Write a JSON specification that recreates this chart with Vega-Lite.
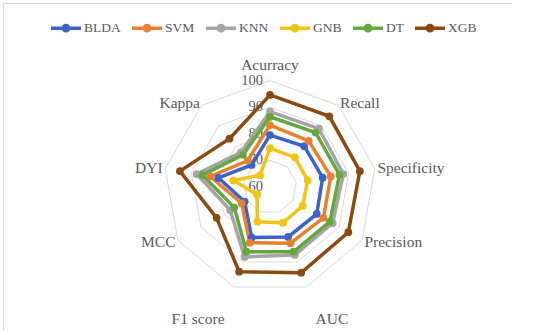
{
  "$schema": "https://vega.github.io/schema/vega-lite/v6.json",
  "width": 509,
  "height": 328,
  "autosize": "none",
  "padding": {"left": 3, "top": 3, "right": 0, "bottom": 0},
  "config": {"view": {"stroke": "#d9d9d9", "strokeWidth": 1}, "font": "Liberation Serif"},
  "datasets": {
    "scores": [
      {"model": "BLDA", "metric": "Acurracy", "i": 0, "value": 79.5},
      {"model": "BLDA", "metric": "Recall", "i": 1, "value": 80},
      {"model": "BLDA", "metric": "Specificity", "i": 2, "value": 80.1},
      {"model": "BLDA", "metric": "Precision", "i": 3, "value": 80.3},
      {"model": "BLDA", "metric": "AUC", "i": 4, "value": 80},
      {"model": "BLDA", "metric": "F1 score", "i": 5, "value": 80.2},
      {"model": "BLDA", "metric": "MCC", "i": 6, "value": 71},
      {"model": "BLDA", "metric": "DYI", "i": 7, "value": 79.7},
      {"model": "BLDA", "metric": "Kappa", "i": 8, "value": 70.8},
      {"model": "SVM", "metric": "Acurracy", "i": 0, "value": 83.3},
      {"model": "SVM", "metric": "Recall", "i": 1, "value": 82.6},
      {"model": "SVM", "metric": "Specificity", "i": 2, "value": 83.2},
      {"model": "SVM", "metric": "Precision", "i": 3, "value": 83.2},
      {"model": "SVM", "metric": "AUC", "i": 4, "value": 82.5},
      {"model": "SVM", "metric": "F1 score", "i": 5, "value": 82.3},
      {"model": "SVM", "metric": "MCC", "i": 6, "value": 72.3},
      {"model": "SVM", "metric": "DYI", "i": 7, "value": 82.8},
      {"model": "SVM", "metric": "Kappa", "i": 8, "value": 73},
      {"model": "KNN", "metric": "Acurracy", "i": 0, "value": 88.3},
      {"model": "KNN", "metric": "Recall", "i": 1, "value": 88.6},
      {"model": "KNN", "metric": "Specificity", "i": 2, "value": 88},
      {"model": "KNN", "metric": "Precision", "i": 3, "value": 87.2},
      {"model": "KNN", "metric": "AUC", "i": 4, "value": 87.2},
      {"model": "KNN", "metric": "F1 score", "i": 5, "value": 88},
      {"model": "KNN", "metric": "MCC", "i": 6, "value": 77.3},
      {"model": "KNN", "metric": "DYI", "i": 7, "value": 88},
      {"model": "KNN", "metric": "Kappa", "i": 8, "value": 77},
      {"model": "GNB", "metric": "Acurracy", "i": 0, "value": 74.6},
      {"model": "GNB", "metric": "Recall", "i": 1, "value": 74.5},
      {"model": "GNB", "metric": "Specificity", "i": 2, "value": 74.4},
      {"model": "GNB", "metric": "Precision", "i": 3, "value": 74.2},
      {"model": "GNB", "metric": "AUC", "i": 4, "value": 74.3},
      {"model": "GNB", "metric": "F1 score", "i": 5, "value": 73.9},
      {"model": "GNB", "metric": "MCC", "i": 6, "value": 65.6},
      {"model": "GNB", "metric": "DYI", "i": 7, "value": 74},
      {"model": "GNB", "metric": "Kappa", "i": 8, "value": 65.8},
      {"model": "DT", "metric": "Acurracy", "i": 0, "value": 86.4},
      {"model": "DT", "metric": "Recall", "i": 1, "value": 86.7},
      {"model": "DT", "metric": "Specificity", "i": 2, "value": 86.5},
      {"model": "DT", "metric": "Precision", "i": 3, "value": 86},
      {"model": "DT", "metric": "AUC", "i": 4, "value": 85.9},
      {"model": "DT", "metric": "F1 score", "i": 5, "value": 85.9},
      {"model": "DT", "metric": "MCC", "i": 6, "value": 75.5},
      {"model": "DT", "metric": "DYI", "i": 7, "value": 85.8},
      {"model": "DT", "metric": "Kappa", "i": 8, "value": 75.8},
      {"model": "XGB", "metric": "Acurracy", "i": 0, "value": 94.6},
      {"model": "XGB", "metric": "Recall", "i": 1, "value": 94.7},
      {"model": "XGB", "metric": "Specificity", "i": 2, "value": 94.3},
      {"model": "XGB", "metric": "Precision", "i": 3, "value": 94},
      {"model": "XGB", "metric": "AUC", "i": 4, "value": 94.3},
      {"model": "XGB", "metric": "F1 score", "i": 5, "value": 93.9},
      {"model": "XGB", "metric": "MCC", "i": 6, "value": 83.2},
      {"model": "XGB", "metric": "DYI", "i": 7, "value": 94.4},
      {"model": "XGB", "metric": "Kappa", "i": 8, "value": 83.7}
    ],
    "grid": [
      {"level": 70, "i": [0, 1, 2, 3, 4, 5, 6, 7, 8]},
      {"level": 80, "i": [0, 1, 2, 3, 4, 5, 6, 7, 8]},
      {"level": 90, "i": [0, 1, 2, 3, 4, 5, 6, 7, 8]},
      {"level": 100, "i": [0, 1, 2, 3, 4, 5, 6, 7, 8]}
    ],
    "metrics": [
      {"metric": "Acurracy", "i": 0},
      {"metric": "Recall", "i": 1},
      {"metric": "Specificity", "i": 2},
      {"metric": "Precision", "i": 3},
      {"metric": "AUC", "i": 4},
      {"metric": "F1 score", "i": 5},
      {"metric": "MCC", "i": 6},
      {"metric": "DYI", "i": 7},
      {"metric": "Kappa", "i": 8}
    ],
    "ticks": [{"v": 60}, {"v": 70}, {"v": 80}, {"v": 90}, {"v": 100}]
  },
  "layer": [
    {
      "data": {"name": "grid"},
      "transform": [
        {"flatten": ["i"]},
        {"calculate": "datum.i * 2 * PI / 9", "as": "a"},
        {"calculate": "(datum.level - 60) * sin(datum.a)", "as": "x"},
        {"calculate": "(datum.level - 60) * cos(datum.a)", "as": "y"}
      ],
      "mark": {"type": "line", "interpolate": "linear-closed", "stroke": "#d9d9d9", "strokeWidth": 1},
      "encoding": {
        "x": {"field": "x", "type": "quantitative", "scale": {"domain": [-100.38, 90.98], "nice": false, "zero": false}, "axis": null},
        "y": {"field": "y", "type": "quantitative", "scale": {"domain": [-54.14, 69.17], "nice": false, "zero": false}, "axis": null},
        "order": {"field": "i", "type": "quantitative"},
        "detail": {"field": "level", "type": "nominal"}
      }
    },
    {
      "data": {"name": "ticks"},
      "transform": [{"calculate": "datum.v - 60", "as": "r"}],
      "mark": {"type": "text", "align": "right", "baseline": "middle", "dx": -7, "fontSize": 14.5, "color": "#595959", "font": "Liberation Serif"},
      "encoding": {
        "x": {"datum": 0, "type": "quantitative"},
        "y": {"field": "r", "type": "quantitative"},
        "text": {"field": "v", "type": "nominal"}
      }
    },
    {
      "data": {"name": "scores"},
      "transform": [
        {"calculate": "datum.i * 2 * PI / 9", "as": "a"},
        {"calculate": "(datum.value - 60) * sin(datum.a)", "as": "x"},
        {"calculate": "(datum.value - 60) * cos(datum.a)", "as": "y"}
      ],
      "mark": {"type": "line", "interpolate": "linear-closed", "strokeWidth": 3.5, "point": {"filled": true, "size": 60}},
      "encoding": {
        "x": {"field": "x", "type": "quantitative"},
        "y": {"field": "y", "type": "quantitative"},
        "order": {"field": "i", "type": "quantitative"},
        "color": {
          "field": "model", "type": "nominal",
          "scale": {"domain": ["BLDA", "SVM", "KNN", "GNB", "DT", "XGB"], "range": ["#3D63C9", "#E8802F", "#A5A5A5", "#F0C514", "#62A83F", "#8B4A12"]},
          "legend": {
            "orient": "none", "legendX": 46, "legendY": 8, "direction": "horizontal", "title": null,
            "symbolType": "M-1,0H1M0.18,0A0.18,0.18,0,1,1,-0.18,0A0.18,0.18,0,1,1,0.18,0Z",
            "symbolSize": 900, "symbolStrokeWidth": 3.5,
            "labelFont": "Liberation Serif", "labelFontSize": 13.5, "labelColor": "#595959", "labelOffset": 1,
            "columnPadding": 4, "padding": 0,
            "encode": {"symbols": {"update": {"fill": {"scale": "color", "field": "value"}, "stroke": {"scale": "color", "field": "value"}, "opacity": {"value": 1}}}}
          }
        }
      }
    },
    {
      "data": {"name": "metrics"},
      "transform": [
        {"calculate": "datum.i * 2 * PI / 9", "as": "a"},
        {"calculate": "sin(datum.a)", "as": "s"},
        {"calculate": "cos(datum.a)", "as": "c"},
        {"calculate": "datum.c < -0.9 ? 50 : (datum.c > 0.9 ? 43 : 41)", "as": "R"},
        {"calculate": "datum.R * datum.s", "as": "lx"},
        {"calculate": "datum.R * datum.c", "as": "ly"}
      ],
      "mark": {
        "type": "text", "fontSize": 15.5, "color": "#595959", "font": "Liberation Serif",
        "align": {"expr": "datum.s > 0.1 ? 'left' : (datum.s < -0.1 ? 'right' : 'center')"},
        "baseline": {"expr": "datum.c > 0.9 ? 'bottom' : (datum.c < -0.9 ? 'top' : 'middle')"}
      },
      "encoding": {
        "x": {"field": "lx", "type": "quantitative"},
        "y": {"field": "ly", "type": "quantitative"},
        "text": {"field": "metric", "type": "nominal"}
      }
    }
  ]
}
